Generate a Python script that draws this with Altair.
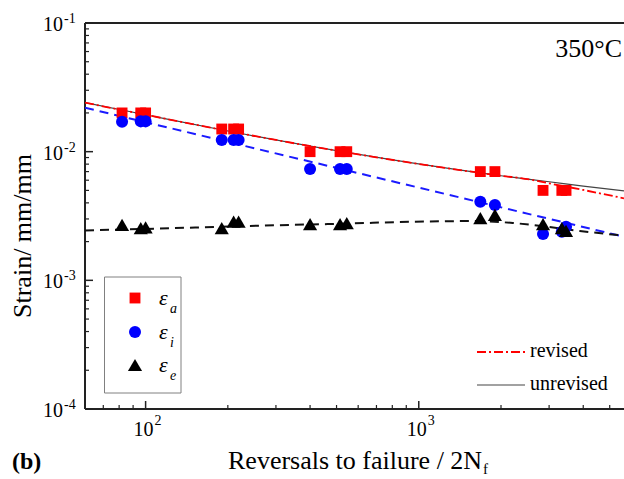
import altair as alt
import pandas as pd

# ---------------- data ----------------
N_tests = [82, 96, 100, 190, 210, 219, 400, 515, 545, 1680, 1900, 2850, 3340, 3460]
strain_a = [0.020, 0.020, 0.020, 0.015, 0.015, 0.015, 0.010, 0.010, 0.010,
            0.0070, 0.0070, 0.0050, 0.0050, 0.0050]
strain_i = [0.0171, 0.0172, 0.0172, 0.0123, 0.0123, 0.0123, 0.00734, 0.00734, 0.00734,
            0.00408, 0.00385, 0.00229, 0.00239, 0.00261]
strain_e = [0.00270, 0.00254, 0.00258, 0.00254, 0.00286, 0.00286, 0.00274, 0.00274, 0.00278,
            0.00304, 0.00322, 0.00273, 0.00254, 0.00242]

unrev_N = [60, 100, 200, 500, 1100, 2000, 3000, 4000, 5640]
unrev_strain = [0.02403, 0.01935, 0.01448, 0.01018, 0.00778, 0.00650, 0.00584, 0.00540, 0.00495]

rev_N = [60, 100, 200, 500, 1100, 2000, 2550, 3000, 4000, 5640]
rev_strain = [0.02403, 0.01935, 0.01448, 0.01018, 0.00778, 0.00650, 0.00608, 0.00567, 0.00504, 0.00434]

inel_N = [60, 5640]
inel_strain = [0.02197, 0.00218]

el_N = [60, 100, 262, 472, 1100, 1577, 2210, 2944, 3887, 5640]
el_strain = [0.00244, 0.00251, 0.00266, 0.00274, 0.00287, 0.00289, 0.00279, 0.00261, 0.00242, 0.002225]

y_major = [1e-4, 1e-3, 1e-2, 1e-1]
y_major_exp = ["-4", "-3", "-2", "-1"]
y_minor = [2e-4, 3e-4, 4e-4, 5e-4, 6e-4, 7e-4, 8e-4, 9e-4,
           2e-3, 3e-3, 4e-3, 5e-3, 6e-3, 7e-3, 8e-3, 9e-3,
           2e-2, 3e-2, 4e-2, 5e-2, 6e-2, 7e-2, 8e-2, 9e-2]
x_major = [100, 1000]
x_major_exp = ["2", "3"]
x_minor = [70, 80, 90, 200, 300, 400, 500, 600, 700, 800, 900, 2000, 3000, 4000, 5000]

# ---------------- chart ----------------
W, H = 539, 386
FONT = "Liberation Serif"
xs = alt.Scale(type="log", domain=[60, 5640])
ys = alt.Scale(type="log", domain=[1e-4, 1e-1])


def xenc(f):
    return alt.X(f"{f}:Q", scale=xs, axis=None)


def yenc(f):
    return alt.Y(f"{f}:Q", scale=ys, axis=None)


one = alt.Data(values=[{"a": 1}])
layers = []

# frame (left, top, bottom)
layers.append(alt.Chart(one).mark_rule(color="#222", strokeWidth=2).encode(
    x=alt.value(0), y=alt.value(0), y2=alt.value(H)))
layers.append(alt.Chart(one).mark_rule(color="#222", strokeWidth=2).encode(
    x=alt.value(0), x2=alt.value(W), y=alt.value(0)))
layers.append(alt.Chart(one).mark_rule(color="#222", strokeWidth=2).encode(
    x=alt.value(0), x2=alt.value(W), y=alt.value(H)))

# ticks (inward)
ymaj = pd.DataFrame({"v": y_major, "e": y_major_exp})
ymin = pd.DataFrame({"v": y_minor})
xmaj = pd.DataFrame({"v": x_major, "e": x_major_exp})
xmin = pd.DataFrame({"v": x_minor})
layers.append(alt.Chart(ymaj).mark_rule(color="#222", strokeWidth=1.5).encode(
    y=yenc("v"), x=alt.value(0), x2=alt.value(8)))
layers.append(alt.Chart(ymin).mark_rule(color="#222", strokeWidth=1.2).encode(
    y=yenc("v"), x=alt.value(0), x2=alt.value(4)))
layers.append(alt.Chart(xmaj).mark_rule(color="#222", strokeWidth=1.5).encode(
    x=xenc("v"), y=alt.value(H), y2=alt.value(H - 8)))
layers.append(alt.Chart(xmin).mark_rule(color="#222", strokeWidth=1.2).encode(
    x=xenc("v"), y=alt.value(H), y2=alt.value(H - 4)))

# tick labels
layers.append(alt.Chart(ymaj).mark_text(align="right", baseline="middle", fontSize=20,
                                        font=FONT, dy=2, color="black").encode(
    y=yenc("v"), x=alt.value(-22), text=alt.value("10")))
layers.append(alt.Chart(ymaj).mark_text(align="left", baseline="middle", fontSize=14,
                                        font=FONT, dy=-4, color="black").encode(
    y=yenc("v"), x=alt.value(-21), text="e:N"))
layers.append(alt.Chart(xmaj).mark_text(align="right", baseline="middle", fontSize=20,
                                        font=FONT, dx=8, color="black").encode(
    x=xenc("v"), y=alt.value(H + 21), text=alt.value("10")))
layers.append(alt.Chart(xmaj).mark_text(align="left", baseline="middle", fontSize=14,
                                        font=FONT, dx=9, color="black").encode(
    x=xenc("v"), y=alt.value(H + 12), text="e:N"))


def curve(Ns, ss, color, width, dash=None):
    df = pd.DataFrame({"N": Ns, "s": ss})
    kw = dict(color=color, strokeWidth=width, interpolate="monotone", clip=True)
    if dash:
        kw["strokeDash"] = dash
    return alt.Chart(df).mark_line(**kw).encode(x=xenc("N"), y=yenc("s"))


layers.append(curve(unrev_N, unrev_strain, "#444444", 1.2))
layers.append(curve(rev_N, rev_strain, "#ff0000", 1.8, [9, 3, 2, 3]))
layers.append(curve(inel_N, inel_strain, "#1a1aff", 2, [9, 6]))
layers.append(curve(el_N, el_strain, "#111111", 2, [9, 6]))

tests = pd.DataFrame({"N": N_tests, "ea": strain_a, "ei": strain_i, "ee": strain_e})
layers.append(alt.Chart(tests).mark_point(shape="square", filled=True, size=118, color="#ff0000",
                                          opacity=1, strokeWidth=0).encode(x=xenc("N"), y=yenc("ea")))
layers.append(alt.Chart(tests).mark_point(shape="circle", filled=True, size=145, color="#0000ff",
                                          opacity=1, strokeWidth=0).encode(x=xenc("N"), y=yenc("ei")))
layers.append(alt.Chart(tests).mark_point(shape="triangle-up", filled=True, size=200, color="#000000",
                                          opacity=1, strokeWidth=0).encode(x=xenc("N"), y=yenc("ee")))

# symbol legend (box + entries)
layers.append(alt.Chart(one).mark_rect(fillOpacity=0, stroke="#808080", strokeWidth=1).encode(
    x=alt.value(19.5), x2=alt.value(96), y=alt.value(254), y2=alt.value(370)))
for shape, col, sz, yy, sub in [("square", "#ff0000", 118, 275, "a"),
                                ("circle", "#0000ff", 145, 309, "i"),
                                ("triangle-up", "#000000", 200, 342, "e")]:
    layers.append(alt.Chart(one).mark_point(shape=shape, filled=True, size=sz, color=col,
                                            opacity=1, strokeWidth=0).encode(
        x=alt.value(50), y=alt.value(yy)))
    layers.append(alt.Chart(one).mark_text(align="left", baseline="middle", fontSize=22, font=FONT,
                                           fontStyle="italic", color="black").encode(
        x=alt.value(74), y=alt.value(yy), text=alt.value("ε")))
    layers.append(alt.Chart(one).mark_text(align="left", baseline="middle", fontSize=14, font=FONT,
                                           fontStyle="italic", color="black").encode(
        x=alt.value(85), y=alt.value(yy + 11), text=alt.value(sub)))

# line legend
layers.append(alt.Chart(one).mark_rule(color="#ff0000", strokeWidth=1.8, strokeDash=[9, 3, 2, 3]).encode(
    x=alt.value(392), x2=alt.value(440), y=alt.value(329)))
layers.append(alt.Chart(one).mark_rule(color="#444444", strokeWidth=1.2).encode(
    x=alt.value(392), x2=alt.value(440), y=alt.value(362)))
layers.append(alt.Chart(one).mark_text(align="left", baseline="middle", fontSize=20, font=FONT,
                                       color="black").encode(
    x=alt.value(445), y=alt.value(328), text=alt.value("revised")))
layers.append(alt.Chart(one).mark_text(align="left", baseline="middle", fontSize=20, font=FONT,
                                       color="black").encode(
    x=alt.value(445), y=alt.value(361), text=alt.value("unrevised")))

# annotations and titles
layers.append(alt.Chart(one).mark_text(align="right", baseline="alphabetic", fontSize=26, font=FONT,
                                       color="black").encode(
    x=alt.value(537), y=alt.value(34), text=alt.value("350°C")))
layers.append(alt.Chart(one).mark_text(angle=270, align="center", baseline="middle", fontSize=26,
                                       font=FONT, color="black").encode(
    x=alt.value(-62), y=alt.value(213), text=alt.value("Strain/ mm/mm")))
layers.append(alt.Chart(one).mark_text(align="left", baseline="alphabetic", fontSize=26, font=FONT,
                                       color="black").encode(
    x=alt.value(143), y=alt.value(446), text=alt.value("Reversals to failure / 2N")))
layers.append(alt.Chart(one).mark_text(align="left", baseline="alphabetic", fontSize=15, font=FONT,
                                       color="black").encode(
    x=alt.value(398), y=alt.value(451), text=alt.value("f")))
layers.append(alt.Chart(one).mark_text(align="left", baseline="alphabetic", fontSize=24, font=FONT,
                                       fontWeight="bold", color="black").encode(
    x=alt.value(-73), y=alt.value(446), text=alt.value("(b)")))

chart = alt.layer(*layers).properties(
    width=W, height=H,
    padding={"left": 85, "top": 23, "right": 0, "bottom": 70},
    autosize=alt.AutoSizeParams(type="none"),
).configure_view(stroke=None)

chart.save("out.html", embed_options={"renderer": "svg", "actions": False})
